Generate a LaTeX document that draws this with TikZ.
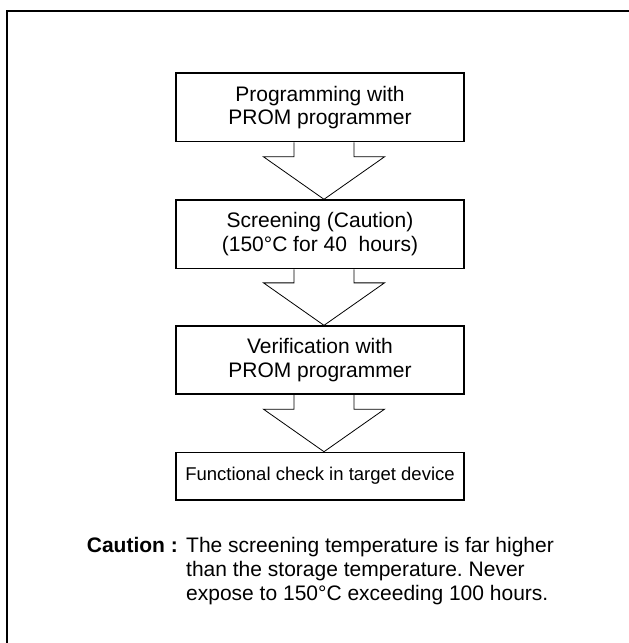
\documentclass[tikz,border=0pt]{standalone}
\usepackage{fontspec}
\setmainfont{Liberation Sans}
\usetikzlibrary{calc}
\frenchspacing

\newcommand{\flowarrow}[2]{%
  \draw[hollow] ($(#1.south)+(-26,0)$) |- ($(#2.north)+(-56.5,-42.5)$)
    -- ($(#2.north)+(4,0)$) -- ($(#2.north)+(64.5,-42.5)$) -| ($(#1.south)+(34,0)$);}

\begin{document}
\begin{tikzpicture}[x=1pt,y=-1pt,
  stepbox/.style={draw,line width=1.3pt,minimum width=288pt,inner sep=0pt,
    align=center,font=\fontsize{21}{23.5}\selectfont},
  hollow/.style={line width=0.8pt,line join=miter}]

\useasboundingbox (0,0) rectangle (629,643);
\clip (0,0) rectangle (629,643);
\draw[line width=1.7pt] (7,11) rectangle (660,680);

\node[stepbox,minimum height=68.7pt] (prog) at (320,107.4) {Programming with\\PROM programmer};
\node[stepbox,minimum height=68.7pt] (screen) at (320,234.3) {Screening (Caution)\\(150°C for 40\ \ hours)};
\node[stepbox,minimum height=68pt] (verify) at (320,360) {Verification with\\PROM programmer};
\node[stepbox,minimum height=47.7pt,font=\fontsize{18.5}{22}\selectfont] (check) at (320,476.2) {Functional check in target device};

\flowarrow{prog}{screen}
\flowarrow{screen}{verify}
\flowarrow{verify}{check}

% caution note
\node[anchor=base west,inner sep=0pt,font=\fontsize{21}{24}\bfseries] (caution) at (86.7,552.7) {Caution :};
\node[anchor=base west,inner sep=0pt,font=\fontsize{21}{24}\selectfont] (note) at (186,552.7)
  {\begin{tabular}[t]{@{}l@{}}The screening temperature is far higher\\than the storage temperature. Never\\expose to 150°C exceeding 100 hours.\end{tabular}};

\end{tikzpicture}
\end{document}
